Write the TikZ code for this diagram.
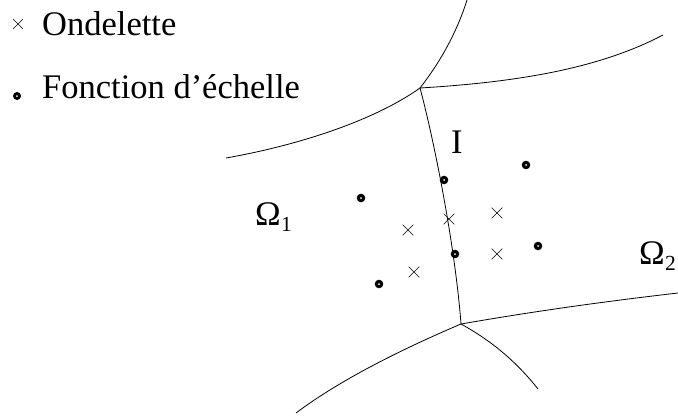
\documentclass[tikz,border=0pt]{standalone}
\usepackage{fontspec}
\setmainfont{Liberation Serif}
\newfontfamily\tnrfont{Liberation Serif}
\usetikzlibrary{shapes.misc}
\begin{document}
\begin{tikzpicture}[x=1pt,y=-1pt,
  edge/.style={line width=0.8pt},
  lbl/.style={anchor=base west,inner sep=0pt,font=\tnrfont\fontsize{34.5}{40}\selectfont},
  sub/.style={anchor=base west,inner sep=0pt,font=\tnrfont\fontsize{21.5}{26}\selectfont},
  dotm/.style={circle,fill=black,minimum size=8.6pt,inner sep=0pt,
    path picture={\fill[white] (path picture bounding box.center) circle (1pt);}},
  crossm/.style={cross out,draw=black,line width=0.6pt,minimum size=10pt,inner sep=0pt}]
\useasboundingbox (0,0) rectangle (678,418);
% legend
\node[crossm,minimum size=9pt] (lx) at (18,24) {};
\node[lbl] (lo) at (42,35) {Ondelette};
\node[dotm,minimum size=8pt] (ld) at (17,96) {};
\node[lbl] (lf) at (42,98) {Fonction d’échelle};
% junctions and ends
\coordinate (J1) at (420,88);
\coordinate (J2) at (461,324);
\coordinate (Etop) at (467,0);
\coordinate (Eleft) at (226,158);
\coordinate (Eright) at (663,35);
\coordinate (Er2) at (678,293);
\coordinate (Ell) at (296,413);
\coordinate (Elr) at (538,389);
\draw[edge] (J1) .. controls (438,65) and (456,35) .. (Etop);
\draw[edge] (J1) .. controls (375,120) and (300,145) .. (Eleft);
\draw[edge] (J1) .. controls (520,82) and (600,68) .. (Eright);
\draw[edge] (J1) .. controls (434,140) and (455,245) .. (J2);
\draw[edge] (J2) .. controls (530,312) and (600,302) .. (Er2);
\draw[edge] (J2) .. controls (400,350) and (340,380) .. (Ell);
\draw[edge] (J2) .. controls (490,340) and (515,360) .. (Elr);
% labels
\node[lbl] (o1) at (255,225) {Ω};
\node[sub] (s1) at (o1.base east) [yshift=-6pt] {1};
\node[lbl] (o2) at (639,264) {Ω};
\node[sub] (s2) at (o2.base east) [yshift=-6pt] {2};
\node[lbl] (i) at (451,153) {I};
% scaling functions
\node[dotm] (d1) at (361,198) {};
\node[dotm] (d2) at (444,180) {};
\node[dotm] (d3) at (526,165) {};
\node[dotm] (d4) at (455,254) {};
\node[dotm] (d5) at (538,246) {};
\node[dotm] (d6) at (379,284) {};
% wavelets
\node[crossm] (c1) at (408,230) {};
\node[crossm] (c2) at (449,219) {};
\node[crossm] (c3) at (497,213) {};
\node[crossm] (c4) at (497,254) {};
\node[crossm] (c5) at (414,272) {};
\end{tikzpicture}
\end{document}
